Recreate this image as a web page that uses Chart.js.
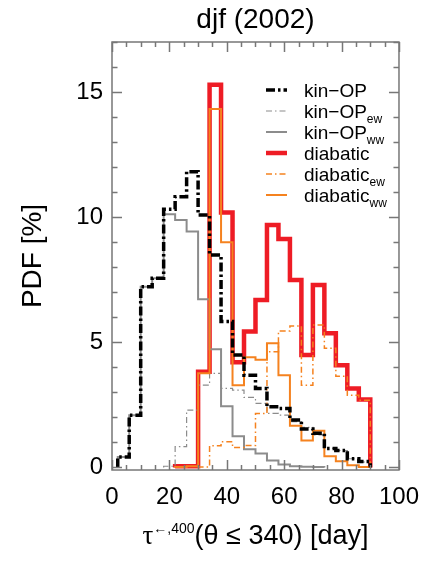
<!DOCTYPE html>
<html>
<head>
<meta charset="utf-8">
<script src="https://cdn.jsdelivr.net/npm/chart.js@4.4.1/dist/chart.umd.min.js"></script>
<style>
  html, body { margin: 0; padding: 0; background: #fff; }
  #wrap { width: 432px; height: 564px; }
</style>
</head>
<body>
<div id="wrap"><canvas id="pdfChart"></canvas></div>
<script>
// left edges of the 4-day bins, last bin closes at 90
const binEdges = [2, 6, 10, 14, 18, 22, 26, 30, 34, 38, 42, 46, 50, 54, 58, 62, 66, 70, 74, 78, 82, 86];
const binWidth = 4;

const kinOP      = [0.42, 2.09, 7.22, 7.56, 10.32, 10.82, 11.82, 10.09, 8.49, 5.83, 4.49, 3.69, 3.16, 2.43, 2.36, 1.9, 1.54, 1.37, 0.76, 0.68, 0.35, 0.24];
const kinOPew    = [null, null, null, null, 0.05, 0.83, 2.29, 3.29, 3.76, 3.16, 3.09, 2.8, 2.56, 2.16, 2.09, 1.83, 1.6, 1.3, 0.76, 0.68, 0.35, 0.22];
const kinOPww    = [0.42, 2.09, 7.22, 7.56, 10.12, 9.89, 9.43, 6.72, 4.72, 2.45, 1.25, 0.73, 0.56, 0.28, 0.12, 0.05, 0.03, 0.02, null, null, null, null];
const diabatic   = [null, null, null, null, null, 0.05, 0.05, 3.83, 15.29, 10.19, 4.2, 5.43, 6.69, 9.69, 9.13, 7.49, 4.49, 7.29, 5.36, 4.09, 3.16, 2.72];
const diabaticEw = [null, null, null, null, null, null, null, 0.02, 0.87, 1.03, 0.8, 0.88, 2.16, 4.62, 5.45, 5.65, 3.29, 5.69, 4.76, 3.65, 2.89, 2.69];
const diabaticWw = [null, null, null, null, null, 0.02, 0.05, 3.77, 14.32, 9.0, 3.29, 4.4, 4.3, 4.96, 3.69, 1.67, 1.08, 1.47, 0.45, 0.25, 0.09, 0.02];

const xTicks = [0, 20, 40, 60, 80, 100];
const yTicks = [0, 5, 10, 15];

const RED = "#ee1c25";
const ORANGE = "#f5821f";
const GRAY = "#8c8c8c";

// histogram outline: rise from 0 at first edge, step across bins, drop to 0 at the end
function toSteps(values) {
  const pts = [];
  let last = null;
  values.forEach(function(v, i) {
    if (v === null) return;
    if (pts.length === 0) pts.push({ x: binEdges[i], y: 0 });
    pts.push({ x: binEdges[i], y: v });
    last = i;
  });
  pts.push({ x: binEdges[last] + binWidth, y: 0 });
  return pts;
}

function series(label, sub, values, color, width, dash, order) {
  return {
    label: label,
    sub: sub,
    data: toSteps(values),
    borderColor: color,
    borderWidth: width,
    borderDash: dash,
    borderCapStyle: "butt",
    borderJoinStyle: "miter",
    stepped: "before",
    pointRadius: 0,
    fill: false,
    order: order
  };
}

const datasets = [
  series("kin\u2212OP", "", kinOP, "#000000", 3.5, [9, 3, 2.5, 3], 1),
  series("kin\u2212OP", "ew", kinOPew, GRAY, 1.2, [6, 3, 1.5, 3], 4),
  series("kin\u2212OP", "ww", kinOPww, GRAY, 2, [], 5),
  series("diabatic", "", diabatic, RED, 4.5, [], 6),
  series("diabatic", "ew", diabaticEw, ORANGE, 1.5, [6, 3, 1.5, 3], 2),
  series("diabatic", "ww", diabaticWw, ORANGE, 2, [], 3)
];

const SANS = "'Liberation Sans', Arial, sans-serif";
const SERIF = "'Liberation Serif', 'Times New Roman', serif";

// box with inward ticks on all four sides, titles and the legend
const framePlugin = {
  id: "frame",
  afterDatasetsDraw(chart) {
    const ctx = chart.ctx;
    const a = chart.chartArea;
    const xs = chart.scales.x;
    const ys = chart.scales.y;
    ctx.save();
    ctx.strokeStyle = "#777777";
    ctx.lineWidth = 1.5;
    ctx.strokeRect(a.left, a.top, a.right - a.left, a.bottom - a.top);
    ctx.beginPath();
    for (let v = 0; v <= 17; v++) {
      const y = Math.round(ys.getPixelForValue(v)) + 0.5;
      const len = v % 5 === 0 ? 10 : 5.5;
      ctx.moveTo(a.left, y); ctx.lineTo(a.left + len, y);
      ctx.moveTo(a.right, y); ctx.lineTo(a.right - len, y);
    }
    for (let v = 0; v <= 100; v += 5) {
      const x = Math.round(xs.getPixelForValue(v)) + 0.5;
      const len = v % 20 === 0 ? 10 : 5;
      ctx.moveTo(x, a.bottom); ctx.lineTo(x, a.bottom - len);
      ctx.moveTo(x, a.top); ctx.lineTo(x, a.top + len);
    }
    ctx.stroke();
    ctx.restore();
  },
  afterDraw(chart) {
    const ctx = chart.ctx;
    const a = chart.chartArea;
    const cx = (a.left + a.right) / 2;
    ctx.save();
    ctx.fillStyle = "#000";

    // title
    ctx.font = "28px " + SANS;
    ctx.textAlign = "center";
    ctx.textBaseline = "alphabetic";
    ctx.fillText("djf (2002)", cx, 28);

    // y axis title
    ctx.save();
    ctx.translate(41, (a.top + a.bottom) / 2);
    ctx.rotate(-Math.PI / 2);
    ctx.fillText("PDF [%]", 0, 0);
    ctx.restore();

    // x axis title with superscript
    const parts = [
      { t: "\u03c4", f: "27px " + SERIF, dy: 0 },
      { t: "\u2190,400", f: "14px " + SANS, dy: -11 },
      { t: "(\u03b8 \u2264 340) [day]", f: "27px " + SANS, dy: 0 }
    ];
    let total = 0;
    parts.forEach(function(p) { ctx.font = p.f; p.w = ctx.measureText(p.t).width; total += p.w; });
    let x = cx - total / 2;
    ctx.textAlign = "left";
    parts.forEach(function(p) { ctx.font = p.f; ctx.fillText(p.t, x, 544 + p.dy); x += p.w; });

    // legend
    const lx0 = 266, lx1 = 287, tx = 304, y0 = 90, dy = 21;
    chart.data.datasets.forEach(function(ds, i) {
      const y = y0 + i * dy;
      ctx.save();
      ctx.strokeStyle = ds.borderColor;
      ctx.lineWidth = ds.borderWidth;
      ctx.setLineDash(ds.borderDash);
      ctx.beginPath();
      ctx.moveTo(lx0, y); ctx.lineTo(lx1, y);
      ctx.stroke();
      ctx.restore();
      ctx.font = "19px " + SANS;
      ctx.fillText(ds.label, tx, y + 7);
      if (ds.sub) {
        const w = ctx.measureText(ds.label).width;
        ctx.font = "12px " + SANS;
        ctx.fillText(ds.sub, tx + w, y + 12);
      }
    });
    ctx.restore();
  }
};

Chart.defaults.font.family = SANS;
Chart.defaults.color = "#000";

new Chart(document.getElementById("pdfChart").getContext("2d"), {
  type: "line",
  data: { datasets: datasets },
  options: {
    responsive: true,
    maintainAspectRatio: false,
    animation: false,
    events: [],
    layout: { padding: { left: 0, top: 42, right: 22, bottom: 0 } },
    scales: {
      x: {
        type: "linear",
        min: 0,
        max: 100,
        afterBuildTicks: function(s) { s.ticks = xTicks.map(function(v) { return { value: v }; }); },
        afterFit: function(s) { s.height = 94; },
        grid: { display: false, drawTicks: false },
        border: { display: false },
        ticks: { font: { size: 24 }, color: "#000", padding: 13, maxRotation: 0 }
      },
      y: {
        type: "linear",
        min: -0.1,
        max: 17,
        afterBuildTicks: function(s) { s.ticks = yTicks.map(function(v) { return { value: v }; }); },
        afterFit: function(s) { s.width = 112; },
        grid: { display: false, drawTicks: false },
        border: { display: false },
        ticks: { font: { size: 24 }, color: "#000", padding: 9 }
      }
    },
    plugins: {
      legend: { display: false },
      tooltip: { enabled: false }
    }
  },
  plugins: [framePlugin]
});
</script>
</body>
</html>
